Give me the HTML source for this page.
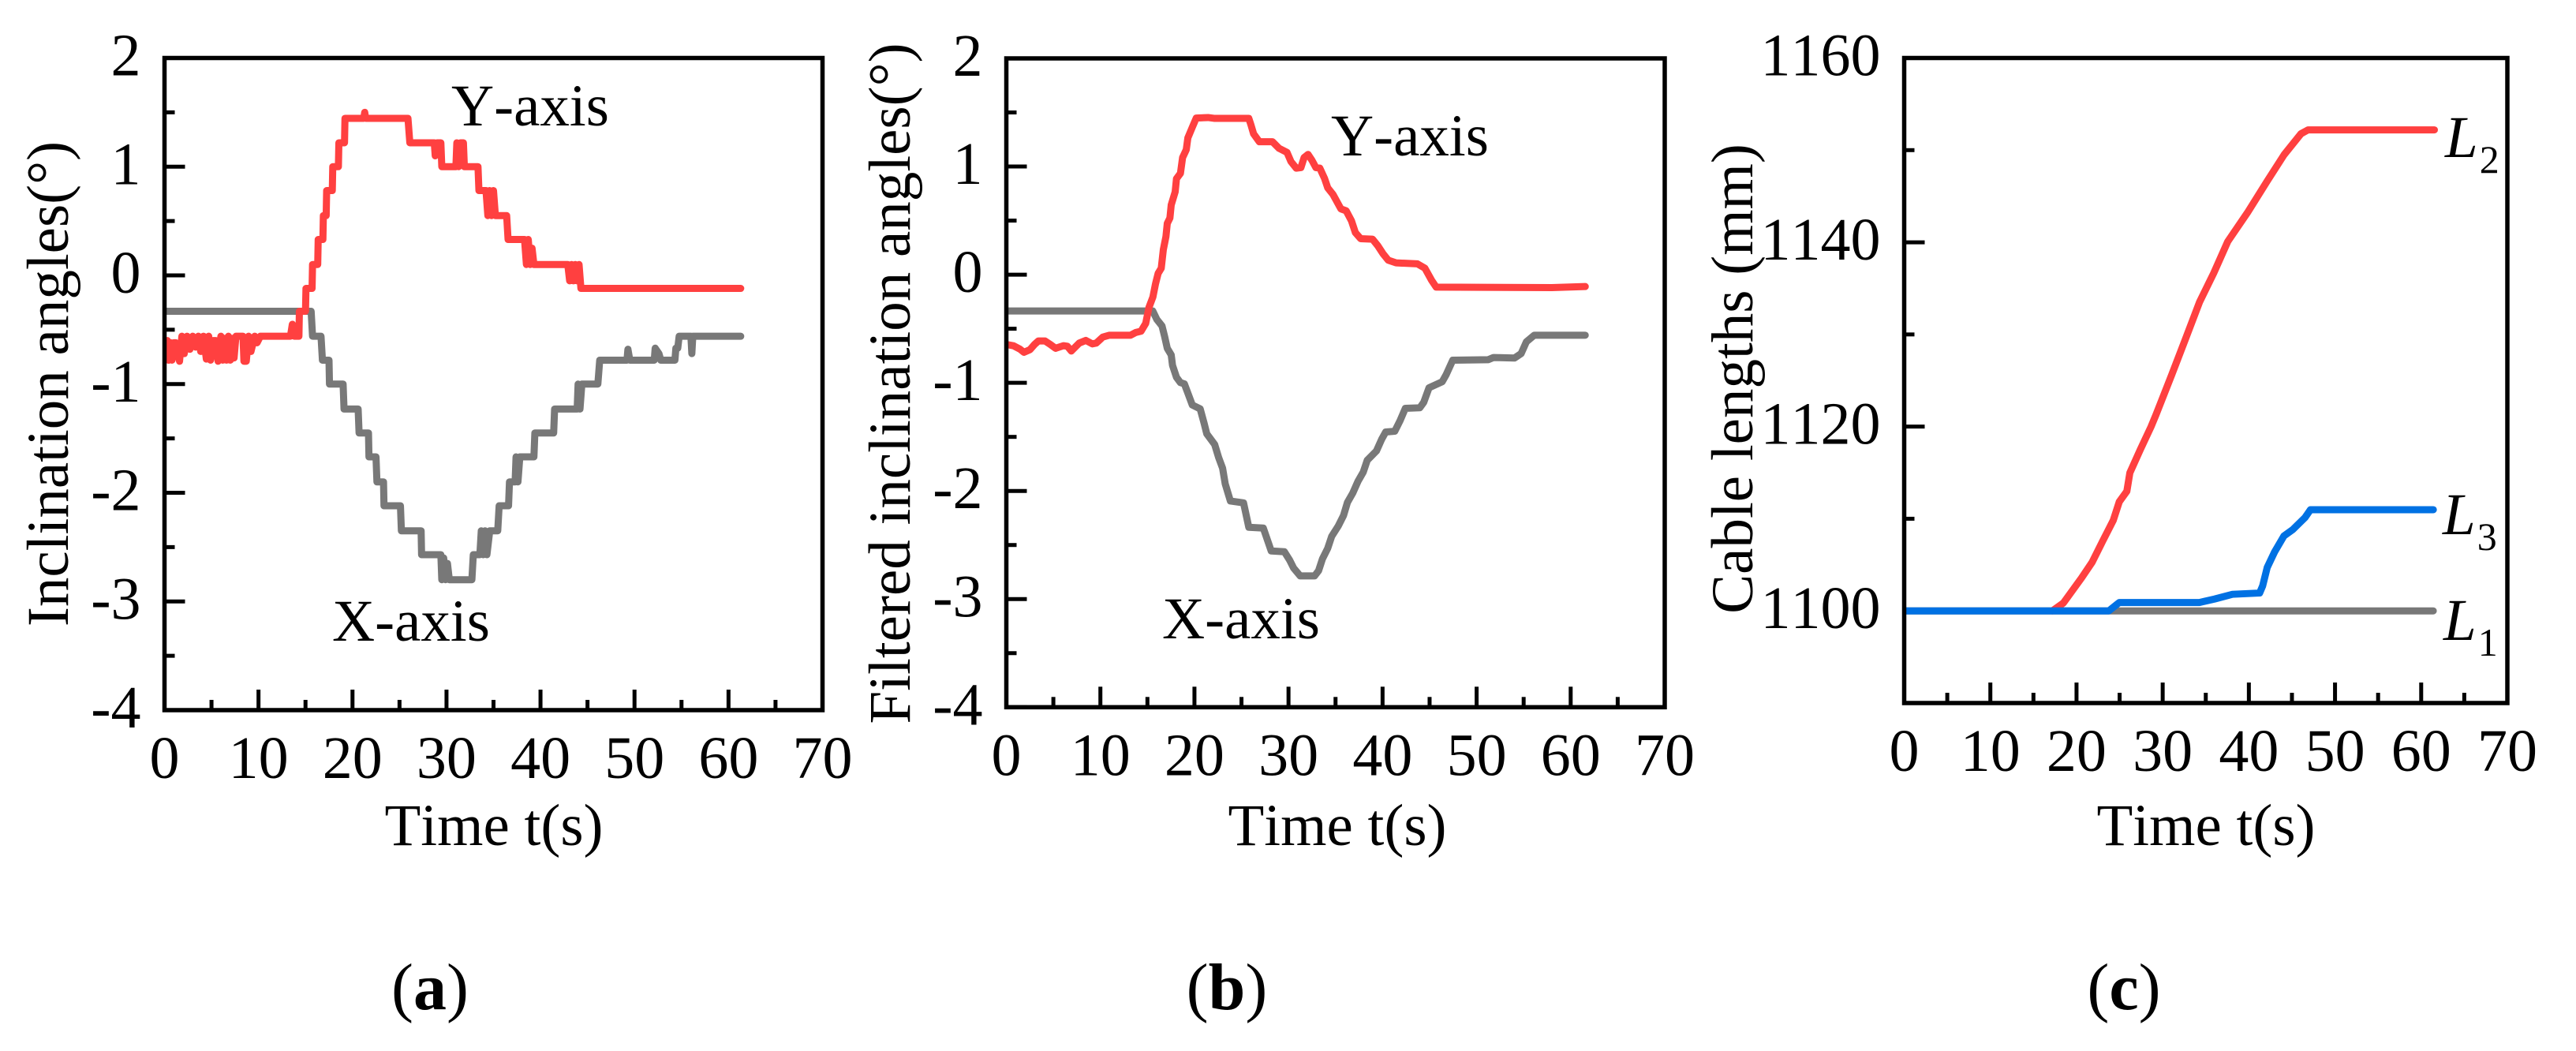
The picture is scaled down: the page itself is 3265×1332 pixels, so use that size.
<!DOCTYPE html>
<html lang="en">
<head>
<meta charset="utf-8">
<title>Inclination angles and cable lengths over time</title>
<style>
  html, body { margin: 0; padding: 0; background: #fff; }
  svg { display: block; }
  text { font-family: "Liberation Serif", "Times New Roman", serif; fill: #000; font-kerning: none; }
</style>
</head>
<body>
<svg id="figure" xmlns="http://www.w3.org/2000/svg" width="3265" height="1332" viewBox="0 0 3265 1332">
  <rect x="0" y="0" width="3265" height="1332" fill="#ffffff"/>
  <defs>
    <clipPath id="clip-a"><rect x="208.5" y="73.5" width="834" height="826.5"/></clipPath>
    <clipPath id="clip-b"><rect x="1275.5" y="73.5" width="834.5" height="822.8"/></clipPath>
    <clipPath id="clip-c"><rect x="2413.5" y="73.5" width="764.5" height="817.5"/></clipPath>
  </defs>

  <g id="panel-a"></g>
  <g id="panel-b"></g>
  <g id="panel-c"></g>

  <text font-size="75" text-anchor="middle" transform="translate(86 486.5) rotate(-90)">Inclination angles(°)</text>
  <text font-size="75" text-anchor="middle" x="626" y="1071">Time t(s)</text>
  <text font-size="75" x="572" y="159">Y-axis</text>
  <text font-size="75" x="421" y="812">X-axis</text>
  <text font-size="84" text-anchor="middle" x="545" y="1279">(<tspan font-weight="bold">a</tspan>)</text>

  <text font-size="75" text-anchor="middle" transform="translate(1153 486) rotate(-90)">Filtered inclination angles(°)</text>
  <text font-size="75" text-anchor="middle" x="1695" y="1071">Time t(s)</text>
  <text font-size="75" x="1687" y="197">Y-axis</text>
  <text font-size="75" x="1473" y="809">X-axis</text>
  <text font-size="84" text-anchor="middle" x="1555" y="1279">(<tspan font-weight="bold">b</tspan>)</text>

  <text font-size="75" text-anchor="middle" transform="translate(2221 480) rotate(-90)">Cable lengths (mm)</text>
  <text font-size="75" text-anchor="middle" x="2796" y="1071">Time t(s)</text>
  <text font-size="75" font-style="italic" x="3099" y="199">L<tspan font-size="50" font-style="normal" dy="20" dx="2">2</tspan></text>
  <text font-size="75" font-style="italic" x="3096" y="677">L<tspan font-size="50" font-style="normal" dy="20" dx="2">3</tspan></text>
  <text font-size="75" font-style="italic" x="3097" y="811">L<tspan font-size="50" font-style="normal" dy="20" dx="2">1</tspan></text>
  <text font-size="84" text-anchor="middle" x="2692" y="1279">(<tspan font-weight="bold">c</tspan>)</text>
</svg>

<script>
// Axis ticks
const timeTicks = [0, 10, 20, 30, 40, 50, 60, 70];
const timeMinorTicks = [5, 15, 25, 35, 45, 55, 65];
const angleTicks = [2, 1, 0, -1, -2, -3, -4];
const angleMinorTicks = [1.5, 0.5, -0.5, -1.5, -2.5, -3.5];
const lengthTicks = [1160, 1140, 1120, 1100];
const lengthMinorTicks = [1150, 1130, 1110];

// Panel (a): raw Y-axis inclination
const rawYTimes = [0,0.1,0.3,0.45,0.65,0.8,1.0,1.2,1.6,1.85,2.1,2.4,2.7,3.0,3.3,3.6,3.85,4.15,4.45,4.7,4.9,5.15,5.45,5.7,6.0,6.2,6.4,6.6,6.8,7.0,7.2,7.4,7.6,8.35,8.45,8.7,8.95,9.2,9.6,9.85,10.2,13.4,13.6,13.8,14.3,14.35,15.0,15.05,15.7,15.75,16.3,16.35,16.85,16.9,17.2,17.25,17.85,17.9,18.5,18.55,19.15,19.2,21.2,21.3,21.4,25.9,26.1,28.7,28.8,29.0,29.4,29.5,31.0,31.1,31.3,31.5,31.8,31.9,33.35,33.45,34.2,34.4,34.6,34.8,35.0,35.2,35.4,36.4,36.55,38.3,38.5,38.7,38.9,39.1,39.3,39.6,42.9,43.1,43.3,43.5,43.7,43.9,44.1,44.3,44.5,61.3];
const rawYValues = [-0.6,-0.78,-0.6,-0.78,-0.62,-0.78,-0.62,-0.62,-0.79,-0.56,-0.72,-0.56,-0.68,-0.56,-0.66,-0.56,-0.7,-0.56,-0.77,-0.56,-0.78,-0.6,-0.6,-0.79,-0.56,-0.78,-0.58,-0.78,-0.56,-0.78,-0.58,-0.76,-0.56,-0.56,-0.79,-0.79,-0.56,-0.7,-0.56,-0.62,-0.56,-0.56,-0.45,-0.56,-0.56,-0.33,-0.33,-0.12,-0.12,0.1,0.1,0.33,0.33,0.55,0.55,0.78,0.78,1.0,1.0,1.22,1.22,1.445,1.445,1.5,1.445,1.445,1.22,1.22,1.1,1.22,1.22,1.0,1.0,1.22,1.0,1.22,1.22,1.0,1.0,0.78,0.78,0.55,0.78,0.55,0.78,0.55,0.55,0.55,0.33,0.33,0.1,0.33,0.1,0.25,0.1,0.1,0.1,-0.05,0.1,-0.05,0.1,-0.05,0.1,-0.12,-0.12,-0.12];

// Panel (a): raw X-axis inclination
const rawXTimes = [0,15.6,15.75,16.65,16.8,17.5,17.55,19.0,19.1,20.6,20.7,21.7,21.75,22.5,22.6,23.3,23.35,25.1,25.2,27.3,27.35,29.4,29.5,29.7,29.9,30.1,30.3,32.7,32.85,33.55,33.7,33.9,34.1,34.3,34.6,35.45,35.6,36.6,36.7,37.3,37.4,37.6,37.8,38.0,39.3,39.4,41.4,41.5,43.9,44.0,44.2,44.4,46.1,46.3,49.2,49.3,49.5,52.1,52.2,52.6,52.8,54.3,54.4,54.6,54.75,56.0,56.1,56.2,61.3];
const rawXValues = [-0.33,-0.33,-0.56,-0.56,-0.78,-0.78,-1.0,-1.0,-1.23,-1.23,-1.45,-1.45,-1.67,-1.67,-1.9,-1.9,-2.12,-2.12,-2.35,-2.35,-2.57,-2.57,-2.8,-2.6,-2.8,-2.65,-2.8,-2.8,-2.57,-2.57,-2.35,-2.57,-2.35,-2.57,-2.35,-2.35,-2.12,-2.12,-1.9,-1.9,-1.67,-1.9,-1.67,-1.67,-1.67,-1.45,-1.45,-1.23,-1.23,-1.0,-1.23,-1.0,-1.0,-0.78,-0.78,-0.68,-0.78,-0.78,-0.67,-0.72,-0.78,-0.78,-0.67,-0.67,-0.56,-0.56,-0.72,-0.56,-0.56];

// Panel (b): filtered Y-axis inclination
const filteredYTimes = [0,0.75,1.45,1.87,2.52,3.0,3.41,4.11,4.67,5.23,6.07,6.49,6.91,7.75,8.45,9.14,9.56,10.26,10.96,13.2,13.76,14.32,14.82,15.16,15.58,15.86,16.14,16.47,16.69,16.97,17.11,17.39,17.53,17.95,18.09,18.51,18.74,19.13,19.3,19.77,20.19,21.45,22.15,25.78,26.0,26.29,26.9,28.3,29.0,29.84,30.26,30.82,31.32,31.66,32.08,32.49,32.91,33.33,33.84,34.17,34.73,35.57,36.13,36.69,37.11,37.67,38.93,39.49,40.04,40.6,41.44,43.7,44.5,45.2,45.7,58,61.55];
const filteredYValues = [-0.645,-0.657,-0.689,-0.718,-0.693,-0.645,-0.613,-0.613,-0.645,-0.681,-0.657,-0.662,-0.706,-0.633,-0.608,-0.64,-0.633,-0.577,-0.56,-0.56,-0.535,-0.523,-0.45,-0.304,-0.207,-0.085,0.012,0.06,0.231,0.353,0.474,0.523,0.645,0.766,0.888,0.937,1.083,1.156,1.265,1.363,1.448,1.453,1.445,1.445,1.387,1.302,1.229,1.229,1.168,1.131,1.046,0.985,0.99,1.083,1.112,1.058,0.99,0.985,0.888,0.803,0.742,0.608,0.591,0.499,0.389,0.333,0.328,0.268,0.195,0.134,0.109,0.1,0.06,-0.05,-0.115,-0.12,-0.11];

// Panel (b): filtered X-axis inclination
const filteredXTimes = [0,15.57,16.0,16.55,16.83,17.11,17.53,17.67,18.09,18.51,18.93,19.35,19.77,20.61,21.03,21.31,22.15,22.57,22.99,23.27,23.82,25.22,25.78,27.32,28.16,29.56,30.12,30.54,31.24,32.77,33.2,33.61,34.17,34.59,35.29,35.85,36.27,36.83,37.39,37.95,38.37,39.35,39.91,40.33,41.3,41.86,42.42,43.96,44.38,44.94,46.34,46.76,47.46,51.24,51.8,54.03,54.73,55.29,56.13,61.55];
const filteredXValues = [-0.336,-0.336,-0.414,-0.474,-0.572,-0.681,-0.742,-0.839,-0.949,-0.998,-1.01,-1.107,-1.205,-1.241,-1.375,-1.472,-1.57,-1.691,-1.789,-1.934,-2.093,-2.11,-2.336,-2.343,-2.555,-2.562,-2.64,-2.713,-2.786,-2.786,-2.737,-2.628,-2.53,-2.42,-2.324,-2.227,-2.105,-2.02,-1.91,-1.825,-1.716,-1.63,-1.521,-1.455,-1.448,-1.35,-1.236,-1.231,-1.18,-1.046,-0.99,-0.925,-0.791,-0.786,-0.766,-0.771,-0.73,-0.621,-0.56,-0.56];

// Panel (c): cable lengths
const l1Times = [0, 61.4];
const l1Values = [1100, 1100];
const l2Times = [17.2,18.48,19.36,20.58,21.81,23.03,24.27,24.96,25.84,26.19,27.42,28.64,29.21,31.01,32.65,34.28,35.92,37.55,39.84,42.13,44.09,46.05,46.88,61.53];
const l2Values = [1100,1100.86,1102,1103.57,1105.28,1107.56,1109.84,1111.84,1112.98,1114.98,1117.54,1119.97,1121.25,1125.53,1129.52,1133.52,1136.65,1140.08,1143.22,1146.64,1149.5,1151.78,1152.2,1152.2];
const l3Times = [0,23.74,24.96,34.25,36.0,38.1,41.25,41.6,42.13,43.0,44.07,45.12,46.52,47.15,61.41];
const l3Values = [1100,1100,1100.91,1100.91,1101.28,1101.8,1101.94,1102.71,1104.71,1106.42,1108.13,1108.84,1110.13,1110.98,1110.98];

const SVG_NS = 'http://www.w3.org/2000/svg';
const RED = '#ff4040';
const GREY = '#787878';
const BLUE = '#0071e3';

function linearScale(d0, d1, r0, r1) {
  return function (v) { return r0 + (v - d0) / (d1 - d0) * (r1 - r0); };
}

function drawLine(parent, sx, sy, times, values, color, clipId, name) {
  const path = document.createElementNS(SVG_NS, 'path');
  let d = '';
  for (let i = 0; i < times.length; i++) {
    d += (i ? 'L' : 'M') + sx(times[i]).toFixed(2) + ' ' + sy(values[i]).toFixed(2);
  }
  path.setAttribute('d', d);
  path.setAttribute('fill', 'none');
  path.setAttribute('stroke', color);
  path.setAttribute('stroke-width', '9');
  path.setAttribute('stroke-linejoin', 'round');
  path.setAttribute('stroke-linecap', 'round');
  path.setAttribute('clip-path', 'url(#' + clipId + ')');
  
  
  parent.appendChild(path);
}

function drawXTick(parent, x, baseY, length, width) {
  const tick = document.createElementNS(SVG_NS, 'line');
  tick.setAttribute('x1', x);
  tick.setAttribute('x2', x);
  tick.setAttribute('y1', baseY);
  tick.setAttribute('y2', baseY - length);
  tick.setAttribute('stroke', '#000');
  tick.setAttribute('stroke-width', width);
  
  
  parent.appendChild(tick);
}

function drawYTick(parent, y, baseX, length, width) {
  const tick = document.createElementNS(SVG_NS, 'line');
  tick.setAttribute('x1', baseX);
  tick.setAttribute('x2', baseX + length);
  tick.setAttribute('y1', y);
  tick.setAttribute('y2', y);
  tick.setAttribute('stroke', '#000');
  tick.setAttribute('stroke-width', width);
  
  
  parent.appendChild(tick);
}

function drawAxes(parent, box, sx, sy, yMajor, yMinor) {
  timeMinorTicks.forEach(function (t) { drawXTick(parent, sx(t), box.y1, 13, 5); });
  timeTicks.forEach(function (t) {
    drawXTick(parent, sx(t), box.y1, 26, 5);
    const label = document.createElementNS(SVG_NS, 'text');
    label.setAttribute('x', sx(t));
    label.setAttribute('y', box.y1 + 86);
    label.setAttribute('font-size', '76');
    label.setAttribute('text-anchor', 'middle');
    
    
    label.textContent = String(t);
    parent.appendChild(label);
  });
  yMinor.forEach(function (v) { drawYTick(parent, sy(v), box.x0, 13, 5); });
  yMajor.forEach(function (v) {
    drawYTick(parent, sy(v), box.x0, 26, 5);
    const label = document.createElementNS(SVG_NS, 'text');
    label.setAttribute('x', box.x0 - 30);
    label.setAttribute('y', sy(v) + 22);
    label.setAttribute('font-size', '76');
    label.setAttribute('text-anchor', 'end');
    
    
    label.textContent = String(v);
    parent.appendChild(label);
  });
}

function drawFrame(parent, box) {
  const frame = document.createElementNS(SVG_NS, 'rect');
  frame.setAttribute('x', box.x0);
  frame.setAttribute('y', box.y0);
  frame.setAttribute('width', box.x1 - box.x0);
  frame.setAttribute('height', box.y1 - box.y0);
  frame.setAttribute('fill', 'none');
  frame.setAttribute('stroke', '#000');
  frame.setAttribute('stroke-width', '5.5');
  
  
  parent.appendChild(frame);
}

// Panel (a)
const boxA = { x0: 208.5, x1: 1042.5, y0: 73.5, y1: 900 };
const sxA = linearScale(0, 70, boxA.x0, boxA.x1);
const syA = linearScale(2, -4, boxA.y0, boxA.y1);
const panelA = document.getElementById('panel-a');
drawAxes(panelA, boxA, sxA, syA, angleTicks, angleMinorTicks);
drawLine(panelA, sxA, syA, rawXTimes, rawXValues, GREY, 'clip-a', 'raw-x-axis-line');
drawLine(panelA, sxA, syA, rawYTimes, rawYValues, RED, 'clip-a', 'raw-y-axis-line');
drawFrame(panelA, boxA);

// Panel (b)
const boxB = { x0: 1275.5, x1: 2110, y0: 74, y1: 896.3 };
const sxB = linearScale(0, 70, boxB.x0, boxB.x1);
const syB = linearScale(2, -4, boxB.y0, boxB.y1);
const panelB = document.getElementById('panel-b');
drawAxes(panelB, boxB, sxB, syB, angleTicks, angleMinorTicks);
drawLine(panelB, sxB, syB, filteredXTimes, filteredXValues, GREY, 'clip-b', 'filtered-x-axis-line');
drawLine(panelB, sxB, syB, filteredYTimes, filteredYValues, RED, 'clip-b', 'filtered-y-axis-line');
drawFrame(panelB, boxB);

// Panel (c)
const boxC = { x0: 2413.5, x1: 3178, y0: 73.5, y1: 891 };
const sxC = linearScale(0, 70, boxC.x0, boxC.x1);
const syC = linearScale(1160, 1090, boxC.y0, boxC.y1);
const panelC = document.getElementById('panel-c');
drawAxes(panelC, boxC, sxC, syC, lengthTicks, lengthMinorTicks);
drawLine(panelC, sxC, syC, l1Times, l1Values, GREY, 'clip-c', 'l1-line');
drawLine(panelC, sxC, syC, l2Times, l2Values, RED, 'clip-c', 'l2-line');
drawLine(panelC, sxC, syC, l3Times, l3Values, BLUE, 'clip-c', 'l3-line');
drawFrame(panelC, boxC);
</script>
</body>
</html>
